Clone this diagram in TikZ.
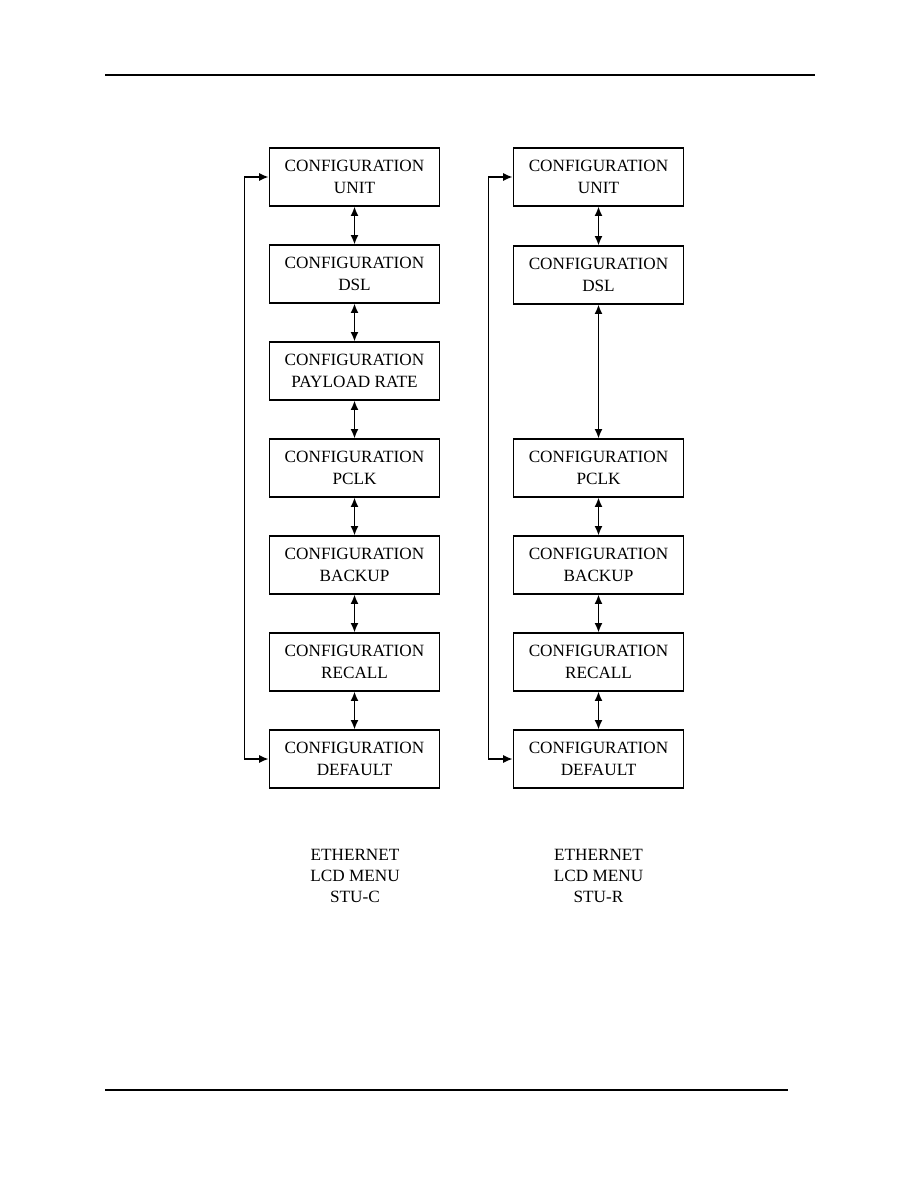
\documentclass[tikz,border=0pt]{standalone}
\usepackage{fontspec}
\setmainfont{Liberation Serif}
\usetikzlibrary{arrows.meta,positioning}

\begin{document}
\begin{tikzpicture}[x=0.75pt, y=-0.75pt,
    box/.style={draw, line width=0.9pt, minimum width=128pt, minimum height=43.5pt, inner sep=0pt, align=center, font=\fontsize{12.9}{16.2}\selectfont},
    arr/.style={{Latex[length=7pt,width=6pt]}-{Latex[length=7pt,width=6pt]}, line width=1.1pt},
    caption/.style={align=center, font=\fontsize{12.9}{15.8}\selectfont},
    rule/.style={line width=1.1pt}]
  \useasboundingbox (0,0) rectangle (918,1188);
  % Page rules
  \draw[rule] (105,75) -- (815,75);
  \draw[rule] (105,1090) -- (788,1090);
  % STU-C menu
  \node[box] (unitC) at (354.5,177) {CONFIGURATION\\UNIT};
  \node[box] (dslC) at (354.5,274) {CONFIGURATION\\DSL};
  \node[box] (rateC) at (354.5,371) {CONFIGURATION\\PAYLOAD RATE};
  \node[box] (pclkC) at (354.5,468) {CONFIGURATION\\PCLK};
  \node[box] (backC) at (354.5,565) {CONFIGURATION\\BACKUP};
  \node[box] (recC) at (354.5,662) {CONFIGURATION\\RECALL};
  \node[box] (defC) at (354.5,759) {CONFIGURATION\\DEFAULT};
  % STU-R menu
  \node[box] (unitR) at (598.5,177) {CONFIGURATION\\UNIT};
  \node[box] (dslR) at (598.5,275) {CONFIGURATION\\DSL};
  \node[box] (pclkR) at (598.5,468) {CONFIGURATION\\PCLK};
  \node[box] (backR) at (598.5,565) {CONFIGURATION\\BACKUP};
  \node[box] (recR) at (598.5,662) {CONFIGURATION\\RECALL};
  \node[box] (defR) at (598.5,759) {CONFIGURATION\\DEFAULT};
  % Captions
  \node[caption] (capC) at (355,876) {ETHERNET\\LCD MENU\\STU-C};
  \node[caption] (capR) at (598.5,876) {ETHERNET\\LCD MENU\\STU-R};

  \draw[arr] (unitC) -- (dslC);
  \draw[arr] (dslC) -- (rateC);
  \draw[arr] (rateC) -- (pclkC);
  \draw[arr] (pclkC) -- (backC);
  \draw[arr] (backC) -- (recC);
  \draw[arr] (recC) -- (defC);
  \draw[arr] (unitC.west) -- ++(-24,0) |- (defC.west);

  \draw[arr] (unitR) -- (dslR);
  \draw[arr] (dslR) -- (pclkR);
  \draw[arr] (pclkR) -- (backR);
  \draw[arr] (backR) -- (recR);
  \draw[arr] (recR) -- (defR);
  \draw[arr] (unitR.west) -- ++(-24,0) |- (defR.west);
\end{tikzpicture}
\end{document}
